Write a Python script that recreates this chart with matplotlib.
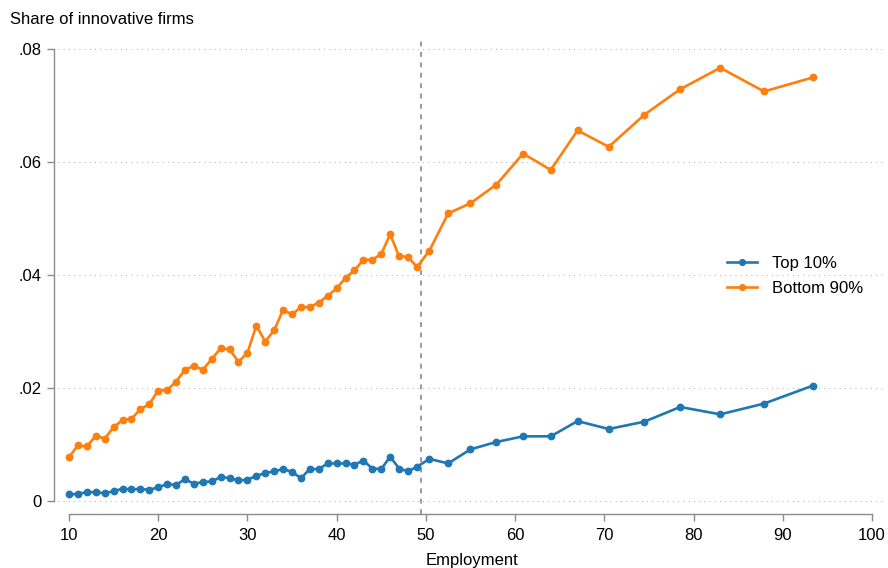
import matplotlib
matplotlib.use("Agg")
import matplotlib.pyplot as plt

plt.rcParams["font.family"] = ["Liberation Sans", "DejaVu Sans"]

# Employment size (firm-level bins)
employment = [10, 11, 12, 13, 14, 15, 16, 17, 18, 19,
              20, 21, 22, 23, 24, 25, 26, 27, 28, 29,
              30, 31, 32, 33, 34, 35, 36, 37, 38, 39,
              40, 41, 42, 43, 44, 45, 46, 47, 48, 49,
              50.4, 52.5, 55.0, 57.9, 60.9, 64.0, 67.0, 70.5, 74.5, 78.5,
              83.0, 87.9, 93.4]

# Share of innovative firms, top 10%
top10 = [0.0011, 0.0012, 0.0015, 0.0015, 0.0013, 0.0017, 0.0021, 0.0020, 0.0021, 0.0019,
         0.0024, 0.0029, 0.0028, 0.0038, 0.0030, 0.0033, 0.0034, 0.0042, 0.0040, 0.0036,
         0.0037, 0.0044, 0.0049, 0.0052, 0.0056, 0.0051, 0.0040, 0.0056, 0.0056, 0.0066,
         0.0066, 0.0066, 0.0064, 0.0071, 0.0057, 0.0056, 0.0078, 0.0057, 0.0052, 0.0060,
         0.0074, 0.0066, 0.0091, 0.0104, 0.0114, 0.0114, 0.0141, 0.0127, 0.0140, 0.0166,
         0.0153, 0.0172, 0.0204]

# Share of innovative firms, bottom 90%
bottom90 = [0.0077, 0.0098, 0.0096, 0.0115, 0.0110, 0.0130, 0.0143, 0.0145, 0.0162, 0.0171,
            0.0195, 0.0196, 0.0211, 0.0232, 0.0239, 0.0232, 0.0251, 0.0270, 0.0268, 0.0246,
            0.0262, 0.0310, 0.0282, 0.0302, 0.0338, 0.0330, 0.0343, 0.0343, 0.0351, 0.0363,
            0.0376, 0.0395, 0.0408, 0.0427, 0.0427, 0.0437, 0.0472, 0.0433, 0.0432, 0.0414,
            0.0443, 0.0509, 0.0527, 0.0560, 0.0615, 0.0586, 0.0656, 0.0627, 0.0684, 0.0729,
            0.0767, 0.0725, 0.0750]

series_labels = ["Top 10%", "Bottom 90%"]
xticks = [10, 20, 30, 40, 50, 60, 70, 80, 90, 100]
yticks = [0, 0.02, 0.04, 0.06, 0.08]
ytick_labels = ["0", ".02", ".04", ".06", ".08"]
threshold = 49.5

W, H = 888, 568
fig = plt.figure(figsize=(W / 100, H / 100), dpi=100)
left, right, top, bottom = 58, 885, 39, 514
ax = fig.add_axes([left / W, (H - bottom) / H, (right - left) / W, (bottom - top) / H])

blue = "#1f77b4"
orange = "#ff7f0e"
axis_grey = "#8c8c8c"

ax.plot(employment, top10, color=blue, lw=1.9, marker="o", ms=4.6,
        label=series_labels[0], zorder=3)
ax.plot(employment, bottom90, color=orange, lw=1.9, marker="o", ms=4.6,
        label=series_labels[1], zorder=3)

ax.axvline(threshold, color="#808080", lw=1.1, linestyle=(0, (3.2, 3.6)), zorder=2)

ax.set_xlim(8.77, 101.46)
ax.set_ylim(-0.00236, 0.0818)

ax.set_yticks(yticks)
ax.set_yticklabels(ytick_labels)
ax.set_xticks(xticks)
ax.set_xticklabels([str(t) for t in xticks])

for y in yticks:
    ax.axhline(y, color="#b5b5b5", lw=0.75, linestyle=(0, (1, 4)), zorder=1)

for s in ["top", "right"]:
    ax.spines[s].set_visible(False)
ax.spines["left"].set_position(("outward", 3))
ax.spines["left"].set_bounds(0, 0.08)
ax.spines["bottom"].set_bounds(10, 100)
for s in ["left", "bottom"]:
    ax.spines[s].set_color(axis_grey)
    ax.spines[s].set_linewidth(1.0)

ax.tick_params(axis="both", direction="out", length=5, width=1.0, color=axis_grey,
               labelsize=12, labelcolor="black")
ax.tick_params(axis="y", pad=4)
ax.tick_params(axis="x", pad=5)

ax.set_xlabel("Employment", fontsize=12, labelpad=7)
fig.text(10 / W, 1 - 20 / H, "Share of innovative firms", fontsize=12,
         ha="left", va="center")

leg = ax.legend(loc="center left", bbox_to_anchor=((719 - left) / (right - left),
                (bottom - 276) / (bottom - top)),
                frameon=False, fontsize=12, handlelength=1.8, handletextpad=0.85,
                labelspacing=0.6, markerscale=0.9, borderpad=0)

fig.savefig("out.png", dpi=100)
